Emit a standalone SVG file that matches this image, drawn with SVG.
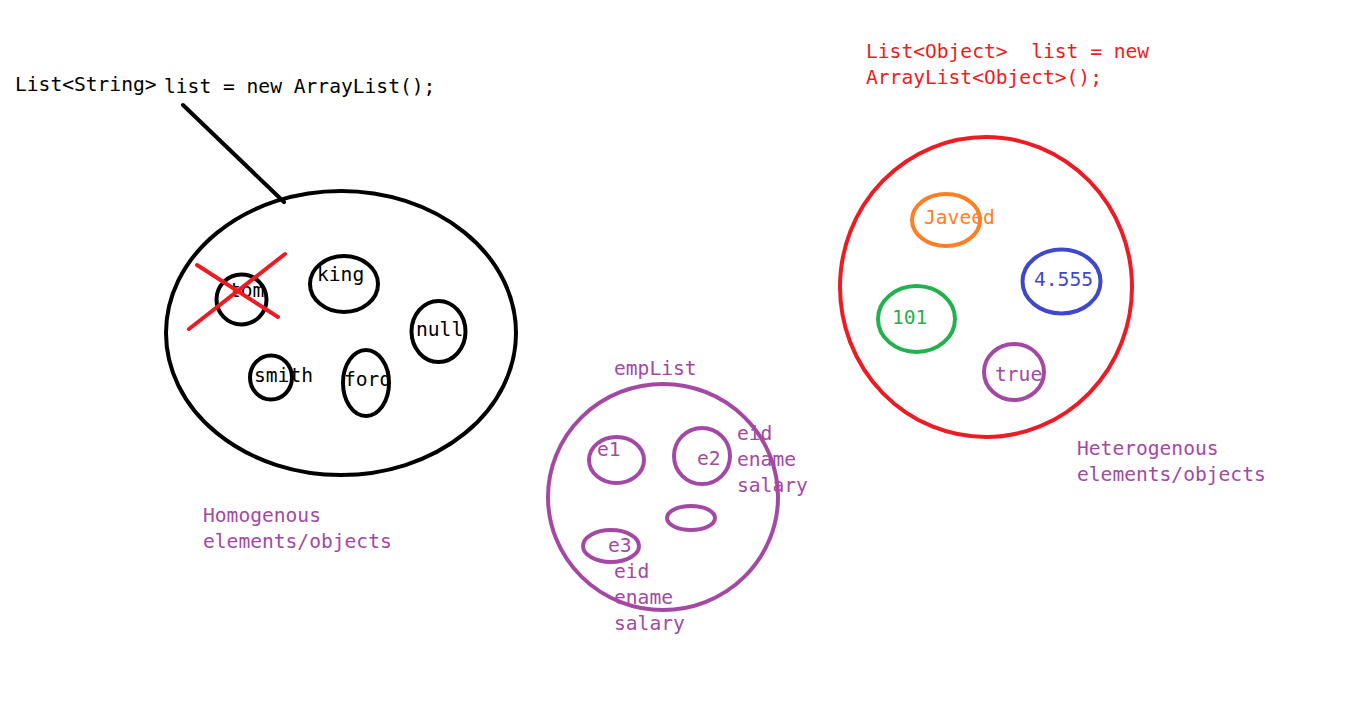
<svg xmlns="http://www.w3.org/2000/svg" width="1355" height="716" viewBox="0 0 1355 716">
<style>
text{font-family:"DejaVu Sans Mono","Liberation Mono",monospace;font-size:19.6px}
.k{fill:#000}.p{fill:#a349a4}.r{fill:#ed1c24}
.sk{fill:none;stroke:#000;stroke-width:4}
.sp{fill:none;stroke:#a349a4;stroke-width:4}
.sr{fill:none;stroke:#ed1c24;stroke-width:4}
</style>
<rect width="1355" height="716" fill="#fff"/>
<g id="homogenous">
<text class="k" x="15" y="91">List&lt;String&gt;</text>
<text class="k" x="164" y="93">list = new ArrayList();</text>
<ellipse class="sk" cx="341" cy="333" rx="175" ry="142"/>
<g id="tom"><ellipse class="sk" cx="241.5" cy="299.5" rx="25" ry="25"/><text class="k" x="229" y="297">tom</text></g>
<g id="king"><ellipse class="sk" cx="344" cy="284" rx="34" ry="28"/><text class="k" x="317" y="281">king</text></g>
<g id="null"><ellipse class="sk" cx="438.5" cy="331.5" rx="27" ry="30.5"/><text class="k" x="416" y="336">null</text></g>
<g id="smith"><ellipse class="sk" cx="271" cy="377.5" rx="21" ry="22"/><text class="k" x="254" y="382">smith</text></g>
<g id="ford"><ellipse class="sk" cx="366" cy="383" rx="23" ry="33"/><text class="k" x="344" y="386">ford</text></g>
<text class="p" x="203" y="522">Homogenous</text>
<text class="p" x="203" y="548">elements/objects</text>
</g>
<g id="connectors">
<line x1="183" y1="105" x2="284" y2="202" stroke="#000" stroke-width="4" stroke-linecap="round"/>
<line x1="197" y1="265" x2="278" y2="317" stroke="#ed1c24" stroke-width="4" stroke-linecap="round"/>
<line x1="189" y1="329" x2="285" y2="254" stroke="#ed1c24" stroke-width="4" stroke-linecap="round"/>
</g>
<g id="emplist">
<text class="p" x="614" y="375">empList</text>
<ellipse class="sp" cx="663" cy="497" rx="115" ry="113"/>
<g id="e1"><ellipse class="sp" cx="616.5" cy="460" rx="27.5" ry="23"/><text class="p" x="597" y="456">e1</text></g>
<g id="e2"><ellipse class="sp" cx="702" cy="456" rx="28" ry="28"/><text class="p" x="697" y="465">e2</text></g>
<text class="p" x="737" y="440">eid</text>
<text class="p" x="737" y="466">ename</text>
<text class="p" x="737" y="492">salary</text>
<ellipse class="sp" cx="691" cy="518" rx="24" ry="12"/>
<g id="e3"><ellipse class="sp" cx="611" cy="546" rx="28" ry="16"/><text class="p" x="608" y="552">e3</text></g>
<text class="p" x="614" y="578">eid</text>
<text class="p" x="614" y="604">ename</text>
<text class="p" x="614" y="630">salary</text>
</g>
<g id="heterogenous">
<text class="r" x="866" y="58" xml:space="preserve">List&lt;Object&gt;  list = new</text>
<text class="r" x="866" y="84">ArrayList&lt;Object&gt;();</text>
<ellipse class="sr" cx="986" cy="287" rx="146" ry="150"/>
<g id="javeed"><ellipse cx="946" cy="220" rx="34" ry="26" fill="none" stroke="#ff7f27" stroke-width="4"/><text x="924" y="224" fill="#ff7f27">Javeed</text></g>
<g id="n4555"><ellipse cx="1061.5" cy="281.5" rx="39" ry="32" fill="none" stroke="#3f48cc" stroke-width="4"/><text x="1034" y="286" fill="#3f48cc">4.555</text></g>
<g id="n101"><ellipse cx="916.5" cy="319" rx="38.5" ry="33" fill="none" stroke="#22b14c" stroke-width="4"/><text x="892" y="324" fill="#22b14c">101</text></g>
<g id="true"><ellipse class="sp" cx="1014" cy="372" rx="30" ry="28"/><text class="p" x="995" y="381">true</text></g>
<text class="p" x="1077" y="455">Heterogenous</text>
<text class="p" x="1077" y="481">elements/objects</text>
</g>
</svg>
